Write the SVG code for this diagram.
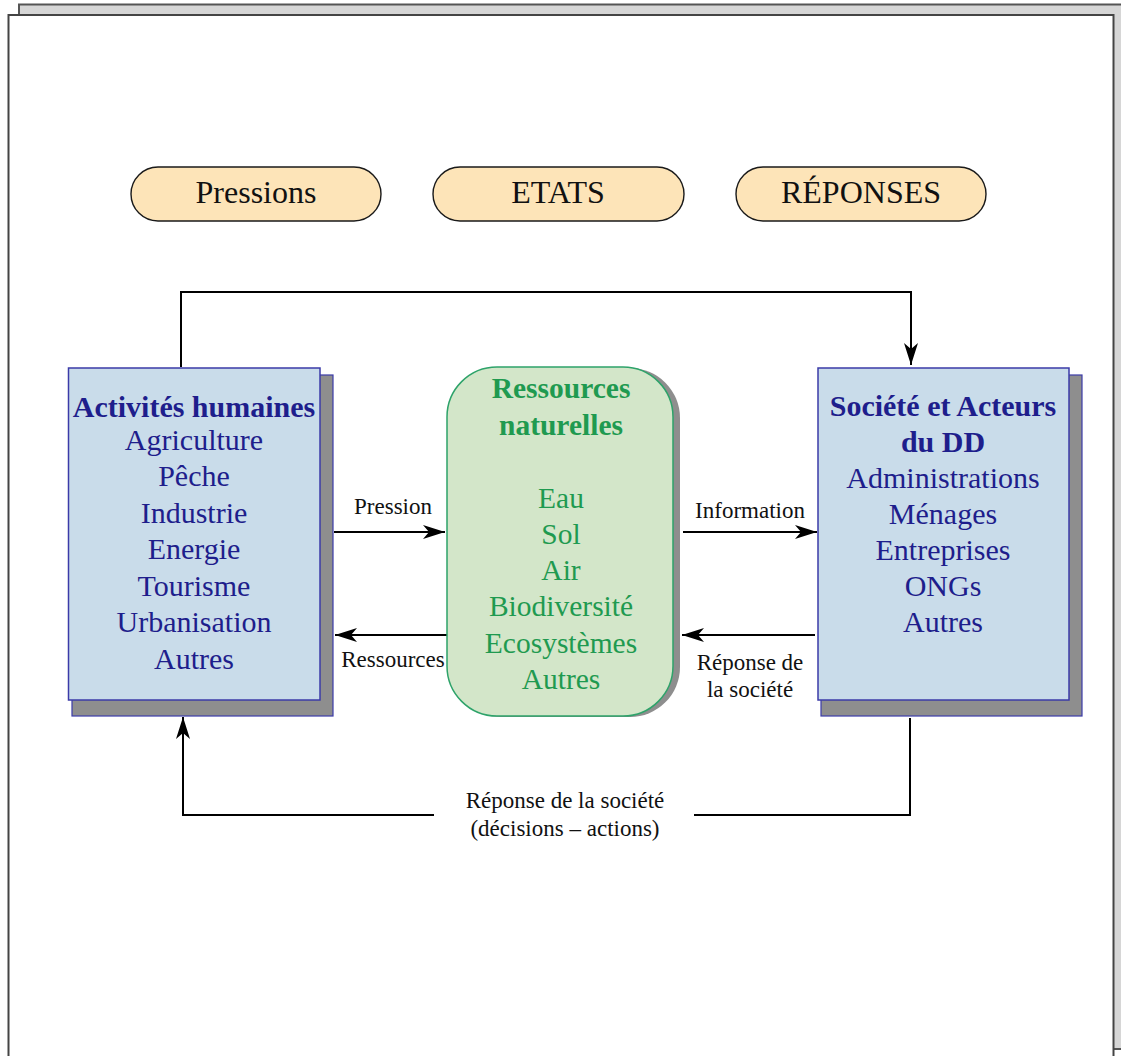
<svg xmlns="http://www.w3.org/2000/svg" width="1121" height="1056" viewBox="0 0 1121 1056">
<style>
.pill{fill:#fde4b8;stroke:#1a1a1a;stroke-width:1.4}
.pt{font-family:"Liberation Serif",serif;font-size:32px;fill:#111;text-anchor:middle}
.box{fill:#c9dcea;stroke:#3b3ba8;stroke-width:1.5}
.shadow{fill:#8e8e8e;stroke:#3b3ba8;stroke-width:1.2}
.bt{font-family:"Liberation Serif",serif;font-size:30px;fill:#1e1e8c;text-anchor:middle}
.bb{font-weight:bold}
.gt{font-family:"Liberation Serif",serif;font-size:29.5px;fill:#1f9a50;text-anchor:middle}
.lbl{font-family:"Liberation Serif",serif;font-size:23px;fill:#111;text-anchor:middle}
.conn{fill:none;stroke:#000;stroke-width:2}
</style>
<defs>
<marker id="ah" markerUnits="userSpaceOnUse" markerWidth="24" markerHeight="14" refX="22" refY="7" orient="auto">
<path d="M0,0 L22,7 L0,14 L6,7 z" fill="#000"/>
</marker>
</defs>
<g id="frame">
<rect x="19" y="4.5" width="1110" height="1044.5" fill="#d6d6d6" stroke="#555" stroke-width="2"/>
<rect x="8.5" y="15" width="1105" height="1060" fill="#fff" stroke="#444" stroke-width="2"/>
</g>
<g id="pill-pressions">
<rect class="pill" x="131" y="167" width="250" height="54" rx="27"/>
<text class="pt" x="256" y="203">Pressions</text>
</g>
<g id="pill-etats">
<rect class="pill" x="433" y="167" width="251" height="54" rx="27"/>
<text class="pt" x="558" y="203">ETATS</text>
</g>
<g id="pill-reponses">
<rect class="pill" x="736" y="167" width="250" height="54" rx="27"/>
<text class="pt" x="861" y="203">RÉPONSES</text>
</g>
<g id="connectors">
<polyline class="conn" points="181,367 181,292 911,292 911,365" marker-end="url(#ah)"/>
<polyline class="conn" points="694,815 910,815 910,718"/>
<polyline class="conn" points="434,815 183,815 183,717" marker-end="url(#ah)"/>
<line class="conn" x1="334" y1="532" x2="445" y2="532" marker-end="url(#ah)"/>
<line class="conn" x1="447" y1="635" x2="335" y2="635" marker-end="url(#ah)"/>
<line class="conn" x1="683" y1="532" x2="817" y2="532" marker-end="url(#ah)"/>
<line class="conn" x1="815" y1="635" x2="682" y2="635" marker-end="url(#ah)"/>
<text class="lbl" x="393" y="514">Pression</text>
<text class="lbl" x="393" y="667">Ressources</text>
<text class="lbl" x="750" y="518">Information</text>
<text class="lbl" x="750" y="670">Réponse de</text>
<text class="lbl" x="750" y="697">la société</text>
<text class="lbl" x="565" y="808">Réponse de la société</text>
<text class="lbl" x="565" y="836">(décisions – actions)</text>
</g>
<g id="activites">
<rect class="shadow" x="72" y="375" width="261" height="341"/>
<rect class="box" x="68.5" y="368" width="251.5" height="332"/>
<text class="bt bb" x="194" y="417">Activités humaines</text>
<text class="bt" x="194" y="450">Agriculture</text>
<text class="bt" x="194" y="486">Pêche</text>
<text class="bt" x="194" y="523">Industrie</text>
<text class="bt" x="194" y="559">Energie</text>
<text class="bt" x="194" y="596">Tourisme</text>
<text class="bt" x="194" y="632">Urbanisation</text>
<text class="bt" x="194" y="669">Autres</text>
</g>
<g id="ressources">
<rect x="451" y="368" width="229" height="349" rx="50" fill="#8e8e8e"/>
<rect x="447" y="367" width="226" height="349" rx="50" fill="#d3e6c9" stroke="#2ea36a" stroke-width="1.5"/>
<text class="gt bb" x="561" y="398">Ressources</text>
<text class="gt bb" x="561" y="435">naturelles</text>
<text class="gt" x="561" y="508">Eau</text>
<text class="gt" x="561" y="544">Sol</text>
<text class="gt" x="561" y="580">Air</text>
<text class="gt" x="561" y="616">Biodiversité</text>
<text class="gt" x="561" y="653">Ecosystèmes</text>
<text class="gt" x="561" y="689">Autres</text>
</g>
<g id="societe">
<rect class="shadow" x="821" y="375" width="261" height="341"/>
<rect class="box" x="818" y="368" width="251" height="332"/>
<text class="bt bb" x="943" y="416">Société et Acteurs</text>
<text class="bt bb" x="943" y="452">du DD</text>
<text class="bt" x="943" y="488">Administrations</text>
<text class="bt" x="943" y="524">Ménages</text>
<text class="bt" x="943" y="560">Entreprises</text>
<text class="bt" x="943" y="596">ONGs</text>
<text class="bt" x="943" y="632">Autres</text>
</g>
</svg>
